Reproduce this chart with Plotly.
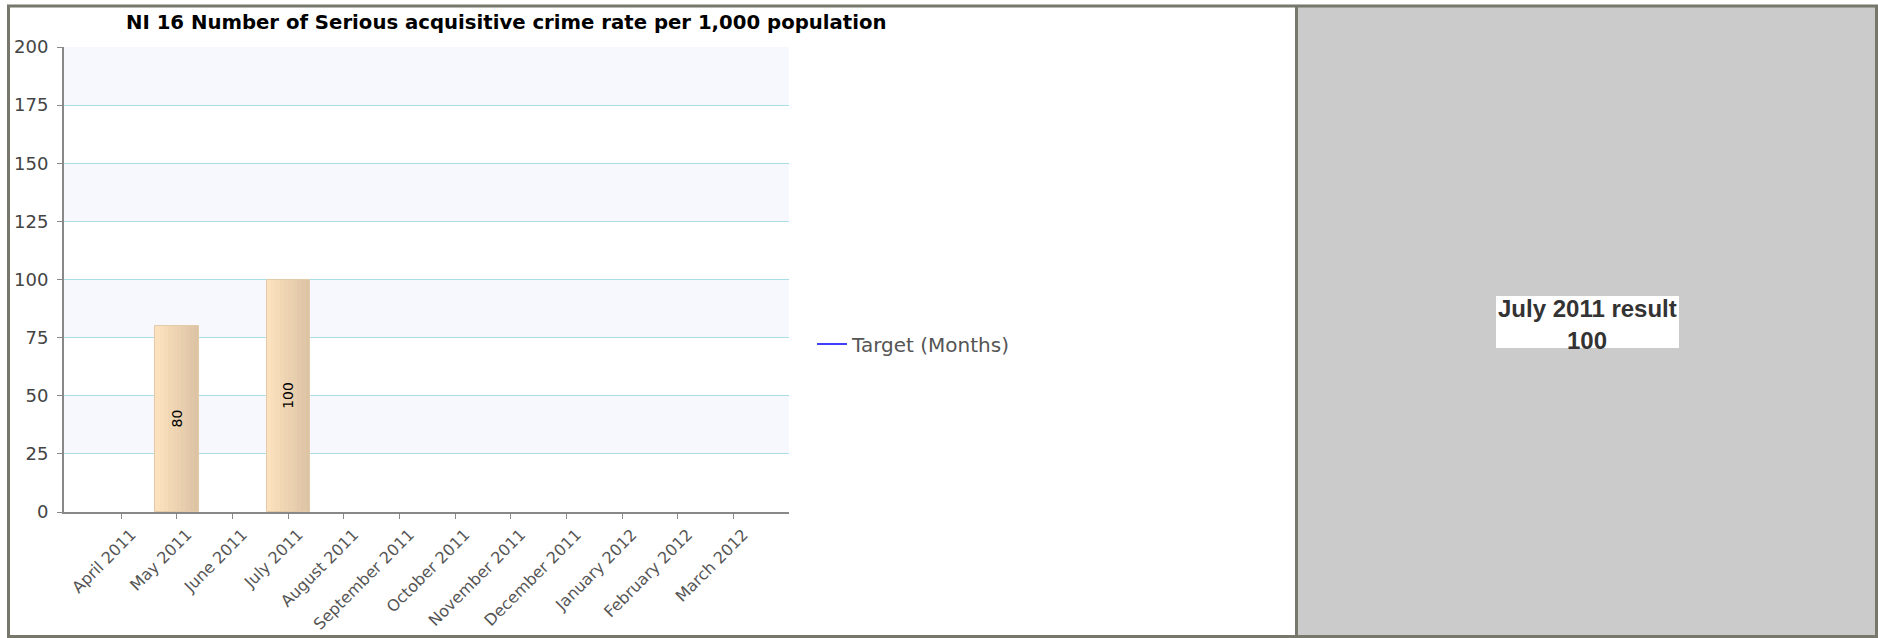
import plotly.graph_objects as go

# ---- data ----
months = ["April 2011", "May 2011", "June 2011", "July 2011", "August 2011",
          "September 2011", "October 2011", "November 2011", "December 2011",
          "January 2012", "February 2012", "March 2012"]
results = [None, 80, None, 100, None, None, None, None, None, None, None, None]
target = [None] * 12
y_ticks = [0, 25, 50, 75, 100, 125, 150, 175, 200]
title_text = "NI 16 Number of Serious acquisitive crime rate per 1,000 population"
latest_label = "July 2011 result"
latest_value = "100"

# ---- geometry (pixels) ----
W, H = 1878, 638
L, R, T, B = 64, 789, 47, 512


def px(x):
    return (x - L) / (R - L)


def py(y):
    return (B - y) / (B - T)


fig = go.Figure()

# gradient bars built from overlaid slices
bar_w = 0.78
n_slices = 10
c0 = (252, 225, 190)
c1 = (221, 196, 164)
for k in range(n_slices):
    t = k / (n_slices - 1)
    col = "rgb(%d,%d,%d)" % tuple(round(a + (b - a) * t) for a, b in zip(c0, c1))
    fig.add_trace(go.Bar(
        x=months, y=results, width=bar_w / n_slices,
        offset=-bar_w / 2 + k * bar_w / n_slices,
        marker=dict(color=col, line=dict(width=0)),
        showlegend=False, hoverinfo="skip"))

# outline + labels
fig.add_trace(go.Bar(
    x=months, y=results, width=bar_w,
    marker=dict(color="rgba(0,0,0,0)", line=dict(color="#E3CBAA", width=1)),
    text=[None if v is None else str(v) for v in results],
    textposition="inside", insidetextanchor="middle", textangle=-90,
    textfont=dict(family="DejaVu Sans", size=14, color="#000000"),
    constraintext="none",
    showlegend=False, hoverinfo="x+y"))

fig.add_trace(go.Scatter(
    x=months, y=target, mode="lines", name="Target (Months)",
    line=dict(color="#0000FF", width=1.5), showlegend=True))

shapes = []
# alternating bands
for lo, hi in zip(y_ticks[1::2], y_ticks[2::2]):
    shapes.append(dict(type="rect", xref="paper", yref="y", x0=0, x1=1, y0=lo, y1=hi,
                       fillcolor="#F7F8FE", line=dict(width=0), layer="below"))
# right grey panel
shapes.append(dict(type="rect", xref="paper", yref="paper",
                   x0=px(1297), x1=px(1876), y0=py(636), y1=py(6),
                   fillcolor="#CBCBCB", line=dict(width=0), layer="below"))
# white label box
shapes.append(dict(type="rect", xref="paper", yref="paper",
                   x0=px(1496), x1=px(1679), y0=py(348), y1=py(296),
                   fillcolor="#FFFFFF", line=dict(width=0), layer="below"))
# outer frame and divider
frame_col = "#77776C"
shapes.append(dict(type="rect", xref="paper", yref="paper",
                   x0=px(8.5), x1=px(1876.5), y0=py(636.5), y1=py(6),
                   fillcolor="rgba(0,0,0,0)", line=dict(color=frame_col, width=3), layer="above"))
shapes.append(dict(type="line", xref="paper", yref="paper",
                   x0=px(1296.5), x1=px(1296.5), y0=py(636.5), y1=py(6),
                   line=dict(color=frame_col, width=3), layer="above"))

annotations = [
    dict(text="<b>" + title_text + "</b>", xref="paper", yref="paper",
         x=px(506), y=py(22), xanchor="center", yanchor="middle", showarrow=False,
         font=dict(family="DejaVu Sans", size=19.7, color="#000000")),
    dict(text="<b>" + latest_label + "</b>", xref="paper", yref="paper",
         x=px(1587), y=py(308), xanchor="center", yanchor="middle", showarrow=False,
         font=dict(family="Liberation Sans", size=24, color="#333333")),
    dict(text="<b>" + latest_value + "</b>", xref="paper", yref="paper",
         x=px(1587), y=py(340), xanchor="center", yanchor="middle", showarrow=False,
         font=dict(family="Liberation Sans", size=24, color="#333333")),
]

fig.update_layout(
    width=W, height=H,
    margin=dict(l=L, r=W - R, t=T, b=H - B, pad=0, autoexpand=False),
    paper_bgcolor="#FFFFFF", plot_bgcolor="#FFFFFF",
    barmode="overlay", bargap=0,
    shapes=shapes, annotations=annotations,
    showlegend=True,
    legend=dict(x=px(812), y=py(344), xanchor="left", yanchor="middle",
                font=dict(family="DejaVu Sans", size=20, color="#555555"),
                bgcolor="rgba(0,0,0,0)", itemwidth=30),
    xaxis=dict(type="category", range=[-1.03, 12.0], tickangle=-45,
               ticks="outside", ticklen=5, tickcolor="#888888",
               showline=True, linecolor="#888888", linewidth=2,
               showgrid=False, zeroline=False, automargin=False,
               ticklabelshift=10, ticklabelstandoff=0,
               tickfont=dict(family="DejaVu Sans", size=16, color="#555555")),
    yaxis=dict(range=[0, 200], tickvals=y_ticks, ticks="outside", ticklen=5,
               tickcolor="#888888", showline=True, linecolor="#888888", linewidth=2,
               gridcolor="#A9DEE6", gridwidth=1, zeroline=False, ticklabelstandoff=5,
               automargin=False,
               tickfont=dict(family="DejaVu Sans", size=18, color="#444444")),
)

fig.write_html("out.html")
